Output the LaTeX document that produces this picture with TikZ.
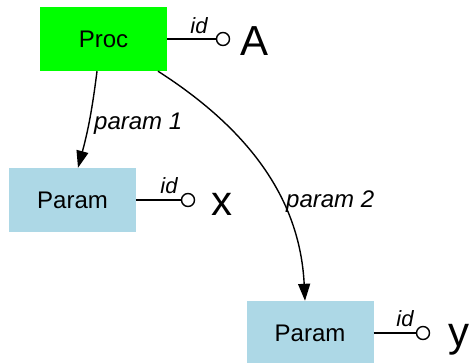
\documentclass[tikz,border=0pt]{standalone}
\usepackage{fontspec}
\setmainfont{Liberation Sans}
\usetikzlibrary{arrows.meta}
\definecolor{paramblue}{RGB}{173,216,230}
\begin{document}
\begin{tikzpicture}[x=1pt,y=-1pt,
  box/.style={minimum width=127pt, minimum height=64pt, inner sep=0pt, font=\fontsize{24}{28}\selectfont},
  lolli/.style={circle, draw, minimum size=13pt, inner sep=0pt, line width=1.4pt},
  conn/.style={line width=1.4pt},
  arr/.style={line width=1.4pt, -{Triangle[length=17pt,width=12pt]}},
  idl/.style={font=\fontsize{22}{26}\selectfont\itshape, inner sep=0pt},
  lbl/.style={font=\fontsize{24}{28}\selectfont\itshape, inner sep=0pt},
  big/.style={font=\fontsize{42}{48}\selectfont, inner sep=0pt, anchor=base}]
\useasboundingbox (0,0) rectangle (470,362);
\node[box, fill=green] (proc) at (103.5,39) {Proc};
\node[box, fill=paramblue] (px) at (72.5,200) {Param};
\node[box, fill=paramblue] (py) at (310,333) {Param};
% lollipops
\node[lolli] (pc) at (223,39) {};
\draw[conn] (proc.east) -- (pc.west);
\node[idl] (pid) at (199,26) {id};
\node[big] (pa) at (255,55) {A};
\node[lolli] (xc) at (188,200) {};
\draw[conn] (px.east) -- (xc.west);
\node[idl] (xid) at (169,186) {id};
\node[big] (xa) at (222,215) {x};
\node[lolli] (yc) at (423,333) {};
\draw[conn] (py.east) -- (yc.west);
\node[idl] (yid) at (405,319) {id};
\node[big] (ya) at (459,346) {y};
% arrows
\draw[arr] ([xshift=-6.5pt]proc.south) to[bend left=4] ([xshift=5.5pt]px.north);
\draw[arr] ([xshift=54.5pt]proc.south) .. controls +(92,59) and +(-5,-101) .. ([xshift=-5pt]py.north);
\node[lbl, anchor=west] (l1) at (94,124) {param 1};
\node[lbl, anchor=west] (l2) at (286,202) {param 2};
\end{tikzpicture}
\end{document}
